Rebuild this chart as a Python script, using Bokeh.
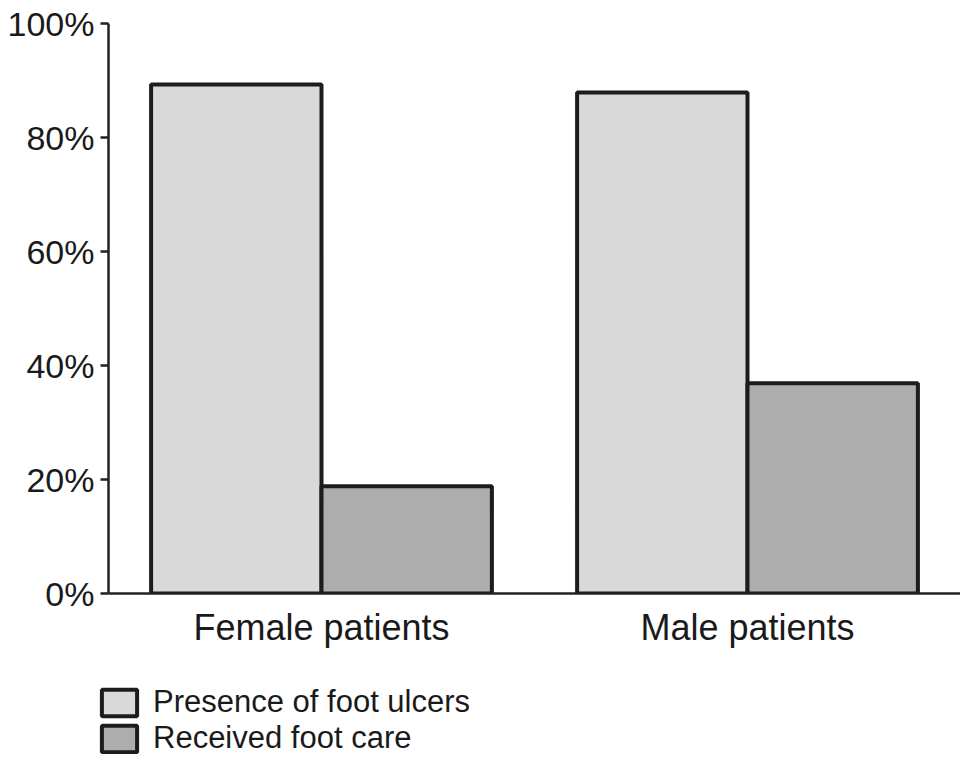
import numpy as np
from bokeh.plotting import figure
from bokeh.layouts import column
from bokeh.models import (ColumnDataSource, FactorRange, Range1d, FixedTicker,
                          PrintfTickFormatter, Legend, LegendItem)
from bokeh.transform import dodge
from bokeh.embed import file_html
from bokeh.resources import INLINE

categories = ["Female patients", "Male patients"]
presence_of_foot_ulcers = [89.3, 87.9]
received_foot_care = [18.8, 36.9]
y_ticks = [0, 20, 40, 60, 80, 100]
series_labels = ["Presence of foot ulcers", "Received foot care"]

FILL_PRESENCE = "#d9d9d9"
FILL_CARE = "#adadad"
OUTLINE = "#1c1c1c"
FONT = "Liberation Sans"

source = ColumnDataSource(data=dict(cat=categories,
                                    presence=presence_of_foot_ulcers,
                                    care=received_foot_care))

p = figure(width=960, height=680, x_range=FactorRange(*categories, range_padding=0),
           y_range=Range1d(0, 100), output_backend="svg", toolbar_location=None,
           min_border_left=108, min_border_right=0, min_border_top=23,
           min_border_bottom=87)

p.vbar(x=dodge("cat", -0.2, range=p.x_range), top="presence", width=0.4,
       source=source, fill_color=FILL_PRESENCE, line_color=OUTLINE, line_width=4)
p.vbar(x=dodge("cat", 0.2, range=p.x_range), top="care", width=0.4,
       source=source, fill_color=FILL_CARE, line_color=OUTLINE, line_width=4)

p.xgrid.visible = False
p.ygrid.visible = False
p.outline_line_color = None

p.yaxis.ticker = FixedTicker(ticks=y_ticks)
p.yaxis.formatter = PrintfTickFormatter(format="%d%%")
p.yaxis.minor_tick_line_color = None
p.yaxis.major_tick_out = 8
p.yaxis.major_tick_in = 0
p.yaxis.major_label_standoff = 6
p.yaxis.major_tick_line_width = 2.5
p.yaxis.major_tick_line_color = "#222222"

for ax in (p.xaxis[0], p.yaxis[0]):
    ax.axis_line_width = 2.5
    ax.axis_line_color = "#222222"
    ax.major_label_text_font = FONT
    ax.major_label_text_color = "#1a1a1a"
p.yaxis.major_label_text_font_size = "34px"
p.xaxis.major_label_text_font_size = "36px"

p.xaxis.major_tick_line_color = None
p.xaxis.major_tick_out = 0
p.xaxis.major_tick_in = 0
p.xaxis.major_label_standoff = 13

# legend panel below the chart
q = figure(width=960, height=74, x_range=Range1d(0, 1), y_range=Range1d(0, 1),
           output_backend="svg", toolbar_location=None,
           min_border_left=0, min_border_right=0, min_border_top=0,
           min_border_bottom=0, x_axis_location=None, y_axis_location=None)
try:
    q.frame_align = False
except Exception:
    pass
q.xgrid.visible = False
q.ygrid.visible = False
q.outline_line_color = None
# swatch-only renderers: a single non-finite row, so nothing is drawn in the panel
swatch_src = ColumnDataSource(data=dict(x=np.array([np.nan]), top=np.array([np.nan]),
                                        bottom=np.array([np.nan])))
l1 = q.vbar(x="x", top="top", bottom="bottom", width=0.1, source=swatch_src,
            fill_color=FILL_PRESENCE, line_color=OUTLINE, line_width=4)
l2 = q.vbar(x="x", top="top", bottom="bottom", width=0.1, source=swatch_src,
            fill_color=FILL_CARE, line_color=OUTLINE, line_width=4)

legend = Legend(items=[LegendItem(label=series_labels[0], renderers=[l1]),
                       LegendItem(label=series_labels[1], renderers=[l2])],
                location=(97, -2), orientation="vertical",
                glyph_width=44, glyph_height=33, label_height=33, spacing=0,
                label_standoff=12, padding=0, margin=0,
                border_line_color=None, background_fill_alpha=0,
                label_text_font=FONT, label_text_font_size="31px",
                label_text_color="#1a1a1a")
q.add_layout(legend, "center")

layout = column(p, q, spacing=0)
open("out.html", "w").write(file_html(layout, INLINE))
